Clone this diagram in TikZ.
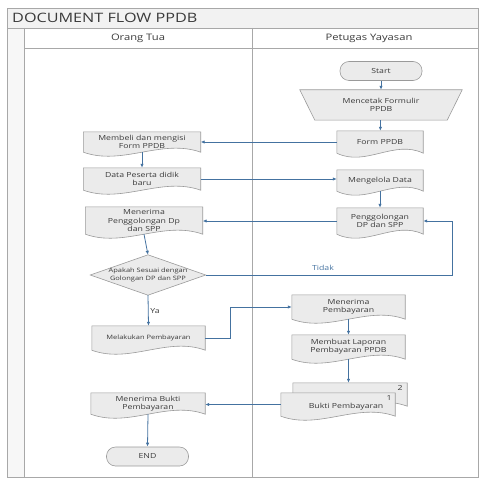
\documentclass[tikz,border=0pt]{standalone}
\usepackage{fontspec}
\setmainfont[FakeStretch=1.25]{Open Sans}
\usetikzlibrary{arrows.meta,backgrounds,calc}
\definecolor{lineblue}{HTML}{4472A0}
\definecolor{shapefill}{HTML}{EBEBEB}
\definecolor{shapeline}{HTML}{9A9A9A}
\definecolor{framefill}{HTML}{F2F2F2}
\definecolor{frameline}{HTML}{A8A8A8}
\definecolor{txt}{HTML}{3A3A3A}
\newcommand{\docoutline}[1]{%
  \draw[shp] (#1.north west) -- (#1.north east) -- (#1.south east)
    .. controls ($(#1.south east)!1/3!(#1.south west)+(0,14pt)$) and ($(#1.south east)!2/3!(#1.south west)+(0,-14pt)$) .. (#1.south west) -- cycle;}
\begin{document}
\begin{tikzpicture}[x=1bp,y=-1bp,
  txtnode/.style={inner sep=0pt, align=center, text=txt, font=\fontsize{7}{8.3}\selectfont},
  shp/.style={draw=shapeline, fill=shapefill, line width=0.6pt},
  term/.style={txtnode, shp, rounded corners=9bp, minimum width=82bp, minimum height=19bp},
  flow/.style={draw=lineblue, line width=0.8pt, -{Latex[length=4pt,width=3.4pt]}},
  lanehead/.style={inner sep=0pt, text=txt, font=\fontsize{9}{9}\selectfont}]
\useasboundingbox (0,0) rectangle (484,479);
% frame
\begin{scope}[on background layer]
  \fill[framefill] (7,8) rectangle (478,28);
  \fill[framefill!60!white] (7,28) rectangle (24,477);
  \draw[frameline, line width=0.6pt] (7,8) rectangle (478,477);
  \draw[frameline, line width=0.6pt] (7,28) -- (478,28);
  \draw[frameline, line width=0.6pt] (24,28) -- (24,477);
  \draw[frameline, line width=0.6pt] (252,28) -- (252,477);
  \draw[frameline, line width=0.6pt] (24,48) -- (478,48);
\end{scope}
\node[anchor=west, inner sep=0pt, text=txt, font=\fontsize{13}{13}\selectfont] (title) at (12,18) {DOCUMENT FLOW PPDB};
\node[lanehead] (lane1) at (138,38) {Orang Tua};
\node[lanehead] (lane2) at (369,38) {Petugas Yayasan};
% right lane
\node[term] (start) at (381,71) {Start};
\node[txtnode, minimum width=162bp, minimum height=30bp] (mc) at (381,105) {Mencetak Formulir\\PPDB};
\node[txtnode, minimum width=86bp, minimum height=22bp] (form) at (380,142) {Form PPDB};
\node[txtnode, minimum width=86bp, minimum height=21bp] (mg) at (380,180.5) {Mengelola Data};
\node[txtnode, minimum width=86bp, minimum height=26bp] (pg) at (380,221) {Penggolongan\\DP dan SPP};
% left lane
\node[txtnode, minimum width=117bp, minimum height=20bp] (mb) at (142,142) {Membeli dan mengisi\\Form PPDB};
\node[txtnode, minimum width=117bp, minimum height=22bp] (dp) at (142,179) {Data Peserta didik\\baru};
\node[txtnode, minimum width=117bp, minimum height=27bp] (mp) at (144,220.5) {Menerima\\Penggolongan Dp\\dan SPP};
\node[txtnode, minimum width=115bp, minimum height=40bp, font=\fontsize{6}{7.5}\selectfont] (dia) at (148,275) {Apakah Sesuai dengan\\Golongan DP dan SPP};
\node[txtnode, minimum width=113bp, minimum height=24bp, font=\fontsize{6}{7.5}\selectfont] (mk) at (148.5,338) {Melakukan Pembayaran};
\node[txtnode, minimum width=114bp, minimum height=21bp] (mbk) at (148,403.5) {Menerima Bukti\\Pembayaran};
\node[term] (end) at (147.5,456.5) {END};
% right lower
\node[txtnode, minimum width=113bp, minimum height=24bp] (mpb) at (348.5,307) {Menerima\\Pembayaran};
\node[txtnode, minimum width=113bp, minimum height=24bp] (ml) at (348.5,347) {Membuat Laporan\\Pembayaran PPDB};
\node[txtnode, minimum width=114bp, minimum height=23bp] (bb) at (350,394.5) {};
\node[txtnode, minimum width=114bp, minimum height=23bp] (bk) at (338,404.5) {};
\node[txtnode] (bkt) at (346,407) {Bukti Pembayaran};
\node[txtnode] (n2) at (400,388) {2};
\node[txtnode] (n1) at (389,398) {1};
% outlines
\begin{scope}[on background layer]
  \draw[shp] (mc.north west) -- (mc.north east) -- ([xshift=-15bp]mc.south east) -- ([xshift=15bp]mc.south west) -- cycle;
  \draw[shp] (dia.north) -- (dia.east) -- (dia.south) -- (dia.west) -- cycle;
  \docoutline{form}
  \docoutline{mg}
  \docoutline{pg}
  \docoutline{mb}
  \docoutline{dp}
  \docoutline{mp}
  \docoutline{mk}
  \docoutline{mbk}
  \docoutline{mpb}
  \docoutline{ml}
  \docoutline{bb}
  \docoutline{bk}
\end{scope}
% connectors
\coordinate (tk) at (452,275);
\coordinate (bend) at (230,300);
\draw[flow] (start) -- (mc);
\draw[flow] (mc) -- (form);
\draw[flow] (form.west) -- (form.west -| mb.east);
\draw[flow] (mb.south) -- (dp.north);
\draw[flow] (dp.east) -- (dp.east -| mg.west);
\draw[flow] (mg.south) -- (pg.north);
\draw[flow] (pg.west) -- (pg.west -| mp.east);
\draw[flow] (mp.south) -- (dia.north);
\draw[flow] (dia.east) -- (dia.east -| tk) |- (pg.east);
\draw[flow] (dia.south) -- (mk.north);
\draw[flow] (mk.east) -- (mk.east -| bend) |- (mpb.west);
\draw[flow] (mpb.south) -- (ml.north);
\draw[flow] (ml.south) -- (ml.south |- bb.north);
\draw[flow] (bk.west) -- (bk.west -| mbk.east);
\draw[flow] (mbk.south) -- (end.north);
\node[inner sep=0pt, text=lineblue, font=\fontsize{7}{8}\selectfont] (tidak) at (323,268) {Tidak};
\node[inner sep=0pt, text=txt, font=\fontsize{7}{8}\selectfont] (ya) at (155,311) {Ya};
\end{tikzpicture}
\end{document}
